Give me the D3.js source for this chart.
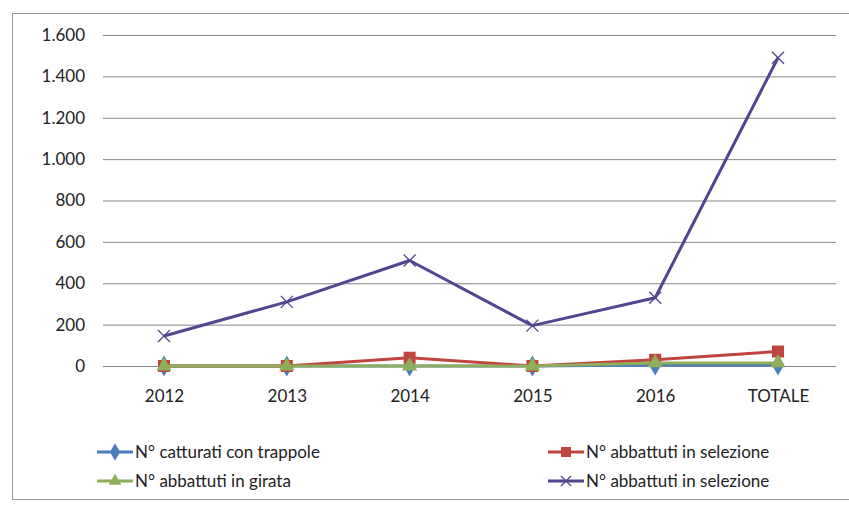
<!DOCTYPE html>
<html><head><meta charset="utf-8">
<script src="https://cdn.jsdelivr.net/npm/d3@7"></script>
<style>body{margin:0;background:#fff}svg{display:block}</style>
</head><body>
<script>
const categories = ["2012","2013","2014","2015","2016","TOTALE"];
const seriesNames = ["N° catturati con trappole","N° abbattuti in selezione","N° abbattuti in girata","N° abbattuti in selezione"];
const trappole = [0,0,0,0,5,5];
const selezioneRed = [0,0,40,0,30,70];
const girata = [0,0,0,0,15,15];
const selezionePurple = [145,310,510,195,330,1490];
const yTicks = [0,200,400,600,800,1000,1200,1400,1600];
const colors = ["#4a7ebb","#c0443f","#8fae5a","#4f4790"];
const markers = ["diamond","square","triangle","x"];

const W=849,H=510;
const svg=d3.select("body").append("svg").attr("width",W).attr("height",H);
svg.append("rect").attr("x",12.5).attr("y",13.5).attr("width",W).attr("height",486).attr("fill","#fff").attr("stroke","#999").attr("stroke-width",1);

const x=d3.scalePoint().domain(categories).range([164,778]);
const y=d3.scaleLinear().domain([0,1600]).range([366,35]);
const loc=d3.formatLocale({decimal:",",thousands:".",grouping:[3],currency:["€",""]});
const fmt=loc.format(",d");
const font="Lato, 'Open Sans', sans-serif";
const fs=17;

const ga=svg.append("g").attr("transform","translate(103,0)")
 .call(d3.axisLeft(y).tickValues(yTicks).tickFormat(fmt).tickSize(-733).tickPadding(18));
ga.select(".domain").remove();
ga.selectAll(".tick line").attr("stroke","#858585").attr("stroke-width",1);
ga.selectAll(".tick text").attr("font-family",font).attr("font-size",fs).attr("fill","#222");

const gx=svg.append("g").attr("transform","translate(0,366)")
 .call(d3.axisBottom(x).tickSize(0).tickPadding(24));
gx.select(".domain").remove();
gx.selectAll(".tick text").attr("font-family",font).attr("font-size",fs).attr("fill","#222");

const data=[trappole,selezioneRed,girata,selezionePurple];
const line=d3.line().x((d,i)=>x(categories[i])).y(d=>y(d));

function drawMarker(g,type,cx,cy,color,s){
  if(type==="diamond"){
    g.append("path").attr("d",d3.symbol(d3.symbolDiamond,s*s*0.9)()).attr("transform",`translate(${cx},${cy})`).attr("fill",color);
  } else if(type==="square"){
    g.append("rect").attr("x",cx-s/2).attr("y",cy-s/2).attr("width",s).attr("height",s).attr("fill",color);
  } else if(type==="triangle"){
    g.append("path").attr("d",d3.symbol(d3.symbolTriangle,s*s*0.7)()).attr("transform",`translate(${cx},${cy})`).attr("fill",color);
  } else {
    const r=s/2;
    g.append("path").attr("d",`M${cx-r},${cy-r}L${cx+r},${cy+r}M${cx-r},${cy+r}L${cx+r},${cy-r}`).attr("stroke",color).attr("stroke-width",1.3).attr("fill","none");
  }
}

[0,1,2,3].forEach(k=>{
  const g=svg.append("g");
  g.append("path").datum(data[k]).attr("d",line).attr("fill","none").attr("stroke",colors[k]).attr("stroke-width",3).attr("stroke-linejoin","round");
  data[k].forEach((v,i)=>drawMarker(g,markers[k],x(categories[i]),y(v),colors[k],12));
});

// legend
const leg=[{k:0,lx:97,ly:452},{k:1,lx:548,ly:452},{k:2,lx:97,ly:481},{k:3,lx:548,ly:481}];
leg.forEach(o=>{
  const g=svg.append("g");
  g.append("line").attr("x1",o.lx).attr("x2",o.lx+36).attr("y1",o.ly).attr("y2",o.ly).attr("stroke",colors[o.k]).attr("stroke-width",3);
  drawMarker(g,markers[o.k],o.lx+18,o.ly,colors[o.k],10);
  g.append("text").attr("x",o.lx+38).attr("y",o.ly).attr("dy","0.35em").attr("font-family",font).attr("font-size",fs).attr("fill","#222").text(seriesNames[o.k]);
});
</script>
</body></html>
